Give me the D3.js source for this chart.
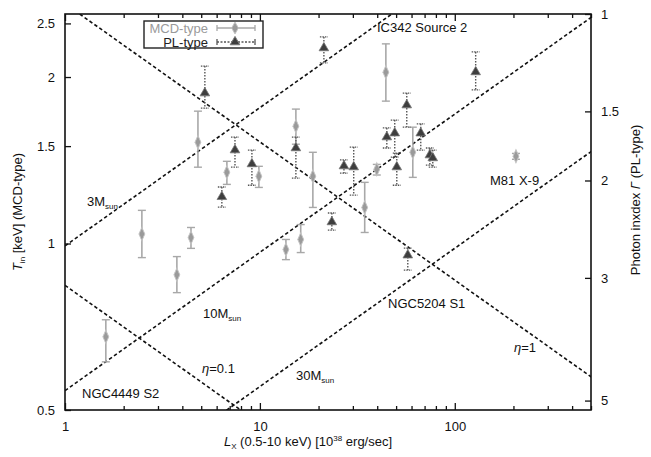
<!DOCTYPE html>
<html>
<head>
<meta charset="utf-8">
<script src="https://cdn.jsdelivr.net/npm/d3@7"></script>
<style>
  body { margin: 0; background: #fff; }
  text { font-family: "Liberation Sans", Arial, sans-serif; fill: #111; }
</style>
</head>
<body>
<div class="chart"></div>
<script>
// MCD-type sources: Lx [1e38 erg/s], Tin [keV] and error range
var mcdLx  = [1.62, 2.48, 3.75, 4.43, 4.81, 6.77, 9.88, 13.6, 15.3, 16.2, 18.7, 34.5, 39.8, 44.3, 60.9, 206];
var mcdTin = [0.678, 1.04, 0.878, 1.025, 1.525, 1.345, 1.323, 0.975, 1.63, 1.017, 1.323, 1.162, 1.362, 2.04, 1.462, 1.438];
var mcdLo  = [0.611, 0.943, 0.815, 0.98, 1.374, 1.279, 1.263, 0.935, 1.512, 0.963, 1.162, 1.047, 1.33, 1.809, 1.317, 1.42];
var mcdHi  = [0.728, 1.148, 0.947, 1.069, 1.735, 1.408, 1.379, 1.017, 1.75, 1.082, 1.462, 1.29, 1.39, 2.296, 1.623, 1.455];

// PL-type sources: Lx and photon index with error range
var plLx    = [5.22, 6.38, 7.45, 9.10, 15.3, 21.3, 23.4, 27.0, 30.3, 44.8, 49.2, 50.4, 56.7, 57.4, 66.9, 74.5, 77.1, 128];
var plGamma = [1.39, 2.14, 1.762, 1.867, 1.747, 1.152, 2.377, 1.883, 1.891, 1.669, 1.642, 1.891, 1.461, 2.729, 1.642, 1.799, 1.821, 1.273];
var plLo    = [1.242, 2.055, 1.669, 1.762, 1.669, 1.10, 2.29, 1.836, 1.740, 1.607, 1.555, 1.784, 1.39, 2.65, 1.58, 1.747, 1.762, 1.171];
var plHi    = [1.48, 2.234, 1.891, 2.04, 1.98, 1.226, 2.459, 1.94, 2.125, 1.747, 1.814, 2.04, 1.601, 2.904, 1.762, 1.876, 1.891, 1.372];

// reference lines Tin = k * Lx^p  (eta=1, eta=0.1, 3, 10, 30 Msun)
var refK = [2.715, 0.84, 0.99, 0.542, 0.31];
var refP = [-0.25, -0.25, 0.25, 0.25, 0.25];

// ticks
var xMajor = [1, 10, 100];
var yLeftTicks = [0.5, 1, 1.5, 2, 2.5];
var yRightTicks = [1, 1.5, 2, 3, 5];

var svgWidth = 651;
var svgHeight = 457;
var margin = { top: 14, right: 60, bottom: 47, left: 65 };
var width = svgWidth - margin.left - margin.right;
var height = svgHeight - margin.top - margin.bottom;

var svg = d3.select(".chart").append("svg")
  .attr("width", svgWidth)
  .attr("height", svgHeight);

var chartGroup = svg.append("g")
  .attr("transform", `translate(${margin.left}, ${margin.top})`);

var x = d3.scaleLog().domain([1, 500]).range([0, width]);
var y = d3.scaleLog().domain([0.5, 2.6]).range([height, 0]);
var yR = d3.scaleLog().domain([1, 5.2]).range([0, height]);

// minor ticks for the log x axis
var xMinor = [];
[1, 10, 100].forEach(function(d) {
  for (var i = 2; i <= 9; i++) { if (d * i <= 500) xMinor.push(d * i); }
});

chartGroup.append("clipPath").attr("id", "clip")
  .append("rect").attr("width", width).attr("height", height);

// dashed reference lines
var refLine = d3.line().x(d => x(d[0])).y(d => y(d[1]));
refK.forEach(function(k, i) {
  var pts = [0.5, 600].map(L => [L, k * Math.pow(L, refP[i])]);
  chartGroup.append("path")
    .attr("clip-path", "url(#clip)")
    .attr("d", refLine(pts))
    .attr("fill", "none")
    .attr("stroke", "#111")
    .attr("stroke-width", 1.6)
    .attr("stroke-dasharray", "3.5,2.5");
});

// MCD points: solid grey error bars + diamonds
var mcdData = mcdLx.map((d, i) => ({ lx: d, v: mcdTin[i], lo: mcdLo[i], hi: mcdHi[i] }));
var mcdG = chartGroup.selectAll(".mcd").data(mcdData).enter().append("g");
mcdG.append("line")
  .attr("x1", d => x(d.lx)).attr("x2", d => x(d.lx))
  .attr("y1", d => y(d.lo)).attr("y2", d => y(d.hi))
  .attr("stroke", "#a8a8a8").attr("stroke-width", 1.6);
["lo", "hi"].forEach(function(k) {
  mcdG.append("line")
    .attr("x1", d => x(d.lx) - 4).attr("x2", d => x(d.lx) + 4)
    .attr("y1", d => y(d[k])).attr("y2", d => y(d[k]))
    .attr("stroke", "#a8a8a8").attr("stroke-width", 1.4);
});
mcdG.append("path")
  .attr("d", d3.symbol(d3.symbolDiamond, 42))
  .attr("transform", d => `translate(${x(d.lx)}, ${y(d.v)}) scale(0.85,1.1)`)
  .attr("fill", "#9a9a9a").attr("stroke", "#c4c4c4").attr("stroke-width", 1);

// PL points: dotted dark error bars + triangles (right axis)
var plData = plLx.map((d, i) => ({ lx: d, v: plGamma[i], lo: plLo[i], hi: plHi[i] }));
var plG = chartGroup.selectAll(".pl").data(plData).enter().append("g");
plG.append("line")
  .attr("x1", d => x(d.lx)).attr("x2", d => x(d.lx))
  .attr("y1", d => yR(d.lo)).attr("y2", d => yR(d.hi))
  .attr("stroke", "#555").attr("stroke-width", 1.4).attr("stroke-dasharray", "1.5,1.5");
["lo", "hi"].forEach(function(k) {
  plG.append("line")
    .attr("x1", d => x(d.lx) - 4).attr("x2", d => x(d.lx) + 4)
    .attr("y1", d => yR(d[k])).attr("y2", d => yR(d[k]))
    .attr("stroke", "#555").attr("stroke-width", 1.3).attr("stroke-dasharray", "1.5,1");
});
plG.append("path")
  .attr("d", d3.symbol(d3.symbolTriangle, 40))
  .attr("transform", d => `translate(${x(d.lx)}, ${yR(d.v)})`)
  .attr("fill", "#3e3e3e").attr("stroke", "#777").attr("stroke-width", 0.8);

// frame
chartGroup.append("rect")
  .attr("width", width).attr("height", height)
  .attr("fill", "none").attr("stroke", "#111").attr("stroke-width", 1.6);

// axes (ticks pointing inward)
var xAxis = chartGroup.append("g")
  .attr("transform", `translate(0, ${height})`)
  .call(d3.axisBottom(x).tickValues(xMajor).tickFormat(d3.format("d")).tickSize(-7).tickPadding(12));
chartGroup.append("g")
  .attr("transform", `translate(0, ${height})`)
  .call(d3.axisBottom(x).tickValues(xMinor).tickFormat("").tickSize(-4));
chartGroup.append("g")
  .call(d3.axisTop(x).tickValues(xMajor).tickFormat("").tickSize(-7));
chartGroup.append("g")
  .call(d3.axisTop(x).tickValues(xMinor).tickFormat("").tickSize(-4));

var yAxis = chartGroup.append("g")
  .call(d3.axisLeft(y).tickValues(yLeftTicks).tickFormat(d3.format("")).tickSize(-6).tickPadding(10));

var yAxisR = chartGroup.append("g")
  .attr("transform", `translate(${width}, 0)`)
  .call(d3.axisRight(yR).tickValues(yRightTicks).tickFormat(d3.format("")).tickSize(-6).tickPadding(10));

chartGroup.selectAll(".domain").remove();
chartGroup.selectAll(".tick line").attr("stroke", "#111").attr("stroke-width", 1.3);
chartGroup.selectAll(".tick text").style("font-size", "13px").attr("fill", "#111");

// annotations
var notes = chartGroup.append("g").style("font-size", "13px");
function note(tx, ty, main, sub) {
  var t = notes.append("text").attr("x", tx - margin.left).attr("y", ty - margin.top).text(main);
  if (sub) t.append("tspan").attr("dy", 3).style("font-size", "8px").text(sub);
}
note(377, 32, "IC342 Source 2");
note(87, 206, "3M", "sun");
note(203, 318, "10M", "sun");
note(296, 380, "30M", "sun");
note(82, 398, "NGC4449 S2");
note(388, 308, "NGC5204 S1");
note(490, 185, "M81 X-9");
notes.append("text").attr("x", 202 - margin.left).attr("y", 373 - margin.top)
  .html('<tspan font-style="italic">η</tspan>=0.1');
notes.append("text").attr("x", 514 - margin.left).attr("y", 352 - margin.top)
  .html('<tspan font-style="italic">η</tspan>=1');

// legend
var legend = chartGroup.append("g").attr("transform", `translate(${144 - margin.left}, ${21 - margin.top})`);
legend.append("rect").attr("width", 119).attr("height", 27)
  .attr("fill", "#fff").attr("stroke", "#222").attr("stroke-width", 1.4);
var legRows = [["MCD-type", "#9a9a9a", 7], ["PL-type", "#222", 21]];
legRows.forEach(function(r, i) {
  legend.append("text").attr("x", 64).attr("y", r[2] + 4.5).attr("text-anchor", "end")
    .style("font-size", "13px").style("fill", r[1]).text(r[0]);
  var c = i === 0 ? "#a8a8a8" : "#555";
  legend.append("line").attr("x1", 73).attr("x2", 111).attr("y1", r[2]).attr("y2", r[2])
    .attr("stroke", c).attr("stroke-width", 1.4).attr("stroke-dasharray", i === 0 ? null : "2,1.5");
  [73, 111].forEach(function(cx) {
    legend.append("line").attr("x1", cx).attr("x2", cx).attr("y1", r[2] - 3).attr("y2", r[2] + 3)
      .attr("stroke", c).attr("stroke-width", 1.3);
  });
  legend.append("path")
    .attr("d", d3.symbol(i === 0 ? d3.symbolDiamond : d3.symbolTriangle, 40))
    .attr("transform", `translate(91, ${r[2]})`)
    .attr("fill", i === 0 ? "#9a9a9a" : "#3e3e3e").attr("stroke", i === 0 ? "#c4c4c4" : "#777");
});

// axis titles
svg.append("text")
  .attr("transform", "translate(308, 446)")
  .attr("text-anchor", "middle").style("font-size", "13px")
  .html('<tspan font-style="italic">L</tspan><tspan dy="3" font-size="8px">X</tspan><tspan dy="-3"> (0.5-10 keV) [10</tspan><tspan dy="-5" font-size="8px">38</tspan><tspan dy="5"> erg/sec]</tspan>');

svg.append("text")
  .attr("transform", "translate(22, 212) rotate(-90)")
  .attr("text-anchor", "middle").style("font-size", "13px")
  .html('<tspan font-style="italic">T</tspan><tspan dy="3" font-size="8px">in</tspan><tspan dy="-3"> [keV] (MCD-type)</tspan>');

svg.append("text")
  .attr("transform", "translate(640, 200) rotate(-90)")
  .attr("text-anchor", "middle").style("font-size", "13px")
  .html('Photon inxdex <tspan font-style="italic">Γ</tspan> (PL-type)');
</script>
</body>
</html>
